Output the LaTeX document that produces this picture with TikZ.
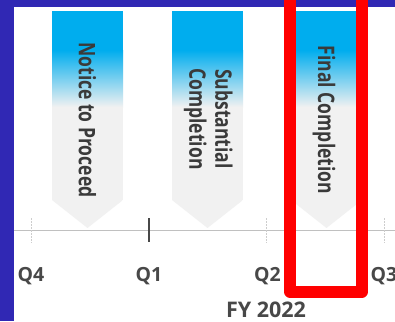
\documentclass[tikz,border=0pt]{standalone}
\usepackage{fontspec}
\setmainfont{Open Sans}
\usepackage{graphicx}
\definecolor{frameblue}{RGB}{48,40,180}
\definecolor{bannerblue}{RGB}{0,173,238}
\definecolor{bannergray}{RGB}{241,241,241}
\definecolor{txtgray}{RGB}{58,58,58}
\definecolor{lblgray}{RGB}{72,72,72}
\definecolor{axisgray}{RGB}{192,192,192}
\definecolor{tickgray}{RGB}{205,205,205}
\tikzset{
  bannertext/.style={rotate=-90, text=txtgray, font=\fontsize{17.5}{20}\selectfont\bfseries, align=center, inner sep=0pt},
  qlabel/.style={text=lblgray, font=\fontsize{19.5}{22}\selectfont\bfseries, anchor=base, inner sep=0pt},
  minortick/.style={draw=tickgray, line width=0.8pt, dash pattern=on 2pt off 1pt},
  majortick/.style={draw=lblgray, line width=2pt},
}
\newcommand{\bannershape}[1]{%
  \begin{scope}
  \clip (#1,11) -- ++(71,0) -- ++(0,189) -- ++(-35.5,28) -- ++(-35.5,-28) -- cycle;
  \fill[bannergray] (#1,11) rectangle ++(71,217);
  \fill[bannerblue] (#1,11) rectangle ++(71,39.5);
  \shade[top color=bannerblue, bottom color=bannergray] (#1,50) rectangle ++(71,57);
  \end{scope}}
\begin{document}
\begin{tikzpicture}[x=1pt,y=-1pt]
\useasboundingbox (0,0) rectangle (395,321);
\fill[frameblue] (0,0) rectangle (395,321);
\fill[white] (14,7) rectangle (395,321);
% axis
\coordinate (axL) at (14,230);
\coordinate (axR) at (395,230);
\draw[axisgray, line width=1pt] (axL) -- (axR);
% ticks
\draw[minortick] (31.5,218) -- (31.5,243);
\draw[majortick] (148.5,218) -- (148.5,242);
\draw[minortick] (266.5,218) -- (266.5,243);
\draw[minortick] (384,218) -- (384,243);
% banners
\bannershape{52}
\bannershape{172}
\bannershape{291}
\node[bannertext] (ntp) at (87.5,120) {\scalebox{1}[1.3]{Notice to Proceed}};
\node[bannertext] (sc) at (207.5,119) {\scalebox{1}[1.3]{\begin{tabular}{@{}c@{}}Substantial\\Completion\end{tabular}}};
\node[bannertext] (fc) at (324,120) {\scalebox{1}[1.3]{Final Completion}};
% labels
\node[qlabel] (q4) at (31,281) {Q4};
\node[qlabel] (q1) at (149,281) {Q1};
\node[qlabel] (q2) at (267.5,281) {Q2};
\node[qlabel] (q3) at (384,281) {Q3};
\node[qlabel, font=\fontsize{21.5}{24}\selectfont\bfseries] (fy) at (266,317.5) {FY 2022};
% highlight
\draw[red, line width=12pt, line join=round] (290,-10) -- (290,291.5) -- (362,291.5) -- (362,-10);
\end{tikzpicture}
\end{document}
